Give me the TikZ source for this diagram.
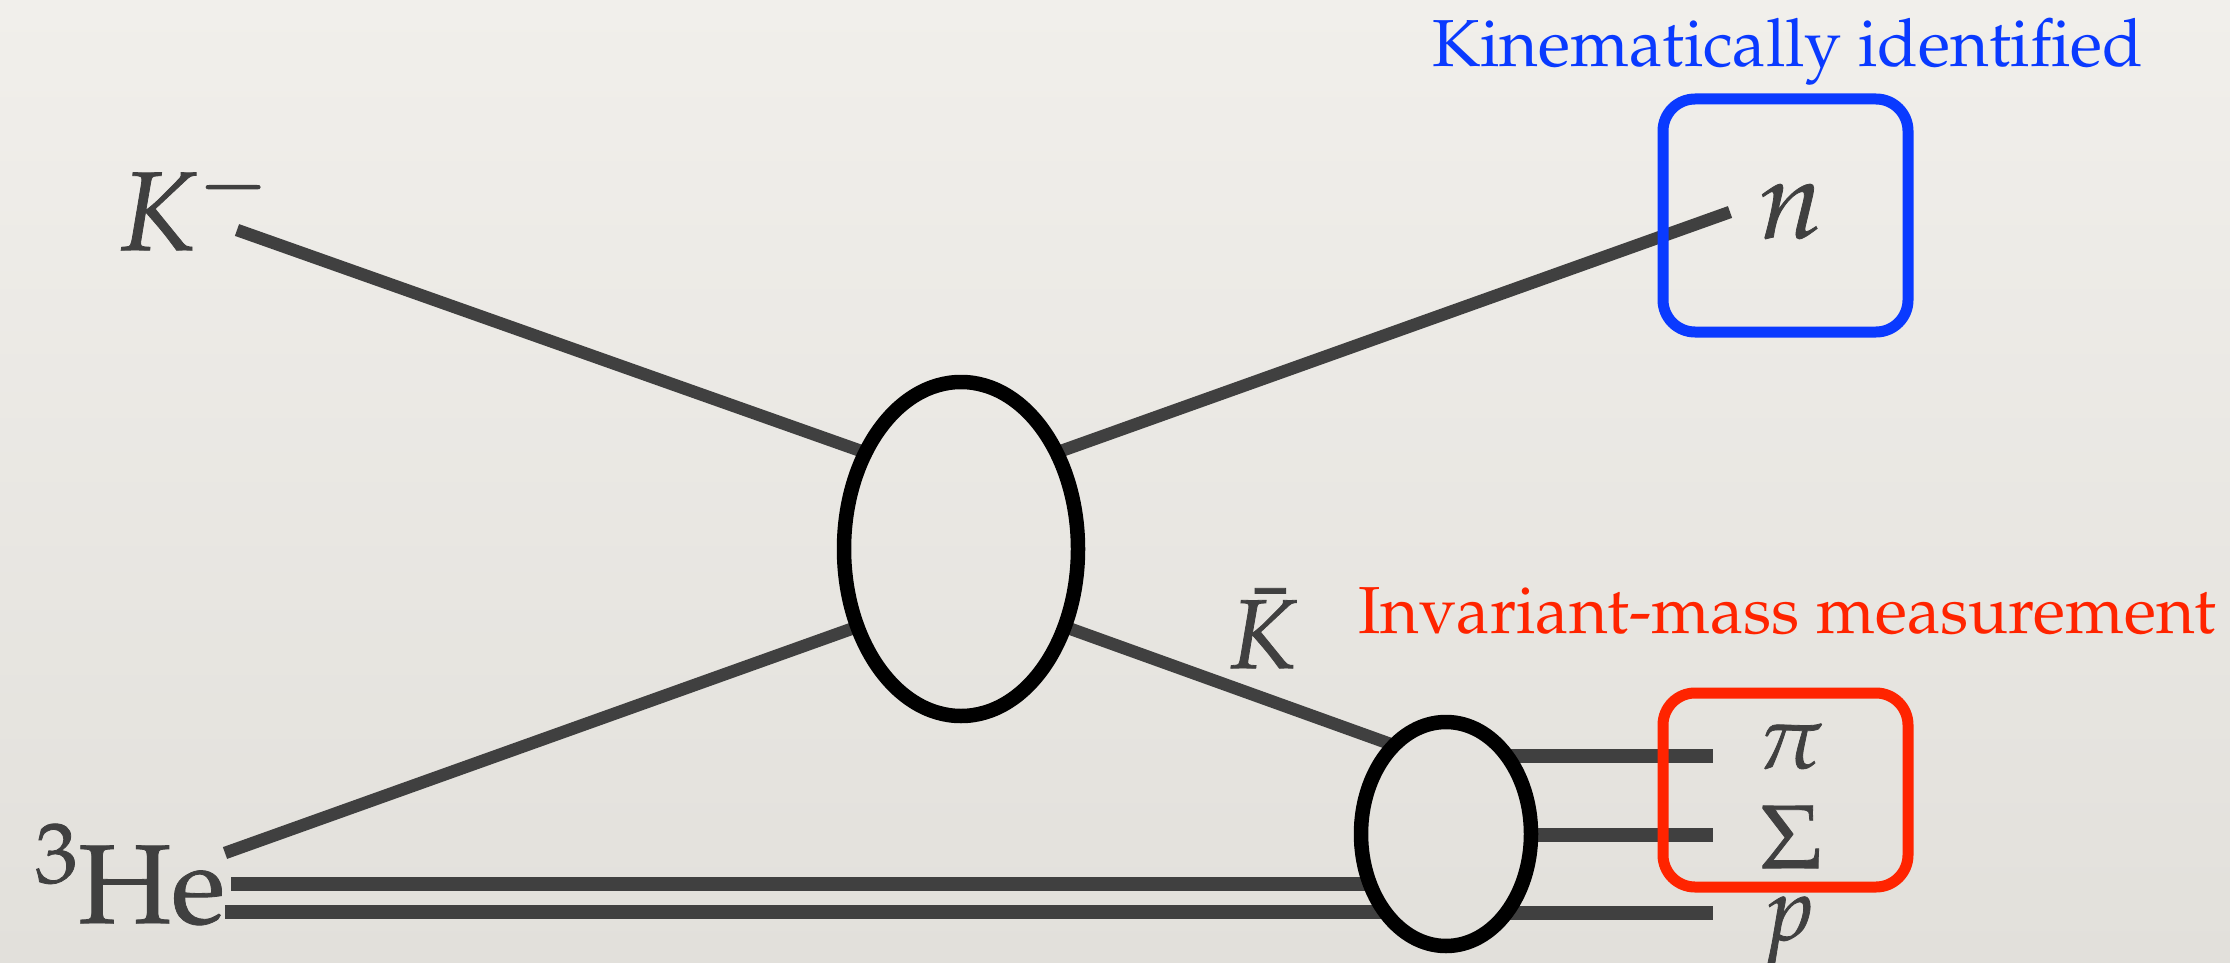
\documentclass[tikz,border=0pt]{standalone}
\usepackage[T1]{fontenc}
\usepackage{mathpazo}
\usetikzlibrary{shapes.geometric}

\definecolor{paperTop}{RGB}{241,239,235}
\definecolor{paperBot}{RGB}{226,224,219}
\definecolor{ink}{RGB}{64,64,64}
\definecolor{markBlue}{RGB}{10,58,255}
\definecolor{markRed}{RGB}{255,36,0}

% glyphs filled and outlined, for a heavier label weight
\newcommand{\heavytext}[1]{\special{pdf:literal direct 2 Tr 0.8 w}#1\special{pdf:literal direct 0 Tr}}

\pgfdeclarelayer{paper}
\pgfdeclarelayer{wires}
\pgfsetlayers{paper,wires,main}

\begin{document}
\begin{tikzpicture}[x=1pt,y=-1pt,
  wire/.style={draw=ink, line width=12.5pt},
  hwire/.style={draw=ink, line width=14pt},
  blob/.style={draw=black, ellipse, line width=14.5pt, inner sep=0pt},
  lbl/.style={text=ink, inner sep=0pt, anchor=base west},
  big font/.style={font=\fontsize{112}{112}\selectfont},
  mid font/.style={font=\fontsize{98}{98}\selectfont},
  small font/.style={font=\fontsize{90}{90}\selectfont},
  note/.style={inner sep=0pt, anchor=base west, font=\fontsize{66.5}{66.5}\selectfont},
  marker/.style={line width=11pt, rounded corners=32pt},
]
\useasboundingbox (0,0) rectangle (2230,963);
\begin{pgfonlayer}{paper}
  \shade[top color=paperTop, bottom color=paperBot] (0,0) rectangle (2230,963);
\end{pgfonlayer}

% vertices
\node[blob, minimum width=234pt, minimum height=334pt] (big) at (961,549) {};
\node[blob, minimum width=170pt, minimum height=224pt] (small) at (1446,834) {};

% particle labels
\node[lbl, big font] (Km) at (118,250) {\heavytext{$K^-$}};
\node[lbl, big font] (n) at (1758,238) {\heavytext{$n$}};
\node[lbl, big font] (He) at (35,923) {\heavytext{$^{3}\mathrm{He}$}};
\node[lbl, mid font] (Kbar) at (1228,668) {\heavytext{$\bar{K}$}};
\node[lbl, small font] (pi) at (1757,768) {\heavytext{$\pi$}};
\node[lbl, small font] (Sig) at (1760,868) {\heavytext{$\Sigma$}};
\node[lbl, small font] (p) at (1762,940) {\heavytext{$p$}};

% free line ends
\coordinate (kin) at (237,230);
\coordinate (nout) at (1730,212);
\coordinate (hein) at (225,853);
\coordinate (he1) at (231,884);
\coordinate (he2) at (225,912);
\coordinate (piout) at (1713,756);
\coordinate (sigout) at (1713,835);
\coordinate (pout) at (1713,913);

\begin{pgfonlayer}{wires}
  \draw[wire, shorten >=-5pt] (kin) -- (big.136);
  \draw[wire, shorten <=-5pt] (big.44) -- (nout);
  \draw[wire, shorten >=-5pt] (hein) -- (big.216);
  \draw[wire, shorten <=-5pt, shorten >=-5pt] (big.-36) -- (small.123);
  \draw[hwire, shorten >=-12pt] (he1) -- (small.211 |- he1);
  \draw[hwire, shorten >=-7pt] (he2) -- (small.228 |- he2);
  \draw[hwire, shorten <=-8pt] (small.48 |- piout) -- (piout);
  \draw[hwire, shorten <=-5pt] (small.east |- sigout) -- (sigout);
  \draw[hwire, shorten <=-8pt] (small.-48 |- pout) -- (pout);
\end{pgfonlayer}

% highlight boxes
\draw[marker, draw=markBlue] (1663,99) rectangle (1908,332);
\draw[marker, draw=markRed] (1663,693) rectangle (1908,887);

% annotations
\node[note, text=markBlue] (kinNote) at (1432,67) {Kinematically identified};
\node[note, text=markRed] (invNote) at (1358,633) {Invariant-mass measurement};
\end{tikzpicture}
\end{document}
